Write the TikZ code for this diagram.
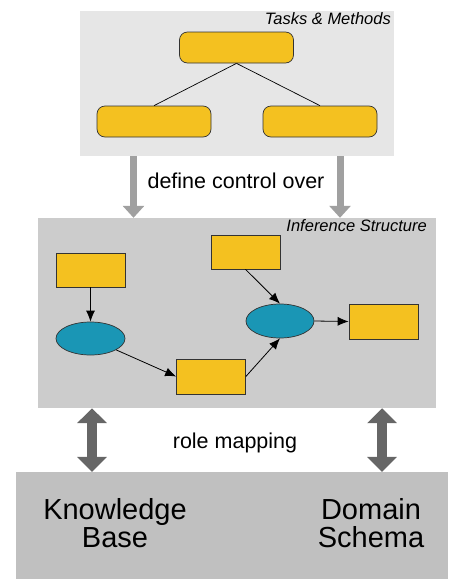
\documentclass[tikz,border=0pt]{standalone}
\usepackage{fontspec}
\setmainfont{Liberation Sans}
\usetikzlibrary{arrows.meta,shapes.geometric}
\definecolor{ybox}{HTML}{F4C120}
\definecolor{tealc}{HTML}{1A96B5}
\definecolor{panelA}{HTML}{E6E6E6}
\definecolor{panelB}{HTML}{CCCCCC}
\definecolor{panelC}{HTML}{C0C0C0}
\definecolor{arrA}{HTML}{A0A0A0}
\definecolor{arrB}{HTML}{666666}
\tikzset{
  panel/.style={inner sep=0pt, draw=none},
  taskbox/.style={draw=black!80, line width=0.7pt, fill=ybox, rounded corners=8pt, minimum width=114pt, minimum height=31pt, inner sep=0pt},
  rolebox/.style={draw=black!80, line width=0.7pt, fill=ybox, minimum width=69pt, minimum height=34pt, inner sep=0pt},
  infer/.style={ellipse, draw=black!80, line width=0.7pt, fill=tealc, minimum width=69pt, minimum height=33pt, inner sep=0pt},
  flow/.style={line width=0.8pt, -{Latex[length=11pt,width=9pt]}},
  tree/.style={line width=0.7pt},
  ctrlarrow/.style={draw=arrA, line width=7pt, -{Triangle[length=12pt,width=21pt]}},
  maparrow/.style={draw=arrB, line width=10pt, {Triangle[length=15pt,width=29pt]}-{Triangle[length=15pt,width=29pt]}},
  ttl/.style={font=\fontsize{16.5pt}{19pt}\selectfont\itshape, inner sep=0pt},
  lbl/.style={font=\fontsize{21.5pt}{26pt}\selectfont, inner sep=0pt},
  big/.style={font=\fontsize{29pt}{28pt}\selectfont, align=center, inner sep=0pt}
}
\begin{document}
\begin{tikzpicture}[x=1pt,y=-1pt]
\useasboundingbox (0,0) rectangle (448,579);
% panels
\node[panel, fill=panelA, minimum width=314pt, minimum height=145pt] (tm) at (237,83.5) {};
\node[panel, fill=panelB, minimum width=398pt, minimum height=190pt] (inf) at (237,313) {};
\node[panel, fill=panelC, minimum width=432pt, minimum height=107pt] (kb) at (232,525.5) {};
% titles
\node[ttl, anchor=east] (tmt) at (391,19) {Tasks \& Methods};
\node[ttl, anchor=east] (inft) at (427,226) {Inference Structure};
% task tree
\node[taskbox] (t0) at (236.5,47.5) {};
\node[taskbox] (t1) at (154,121.5) {};
\node[taskbox] (t2) at (320,121.5) {};
\draw[tree] (t0.south) -- (t1.north);
\draw[tree] (t0.south) -- (t2.north);
% inference structure
\node[rolebox] (b1) at (90.5,270) {};
\node[infer] (e1) at (90.5,338.5) {};
\node[rolebox, minimum height=35pt] (b2) at (211,376.5) {};
\node[rolebox] (b3) at (245.5,252) {};
\node[infer, minimum width=68pt, minimum height=34pt] (e2) at (280,321) {};
\node[rolebox, minimum height=35pt] (b4) at (383.5,321.5) {};
\draw[flow] (b1.south) -- (e1.north);
\draw[flow] (e1) -- (b2.west);
\draw[flow] (b2.east) -- (e2.south);
\draw[flow] (b3.south) -- (e2.north);
\draw[flow] (e2.east) -- (b4.west);
% control arrows
\coordinate (cx1) at (133.5,0);
\coordinate (cx2) at (340,0);
\draw[ctrlarrow] (tm.south -| cx1) -- (inf.north -| cx1);
\draw[ctrlarrow] (tm.south -| cx2) -- (inf.north -| cx2);
\node[lbl] (dco) at (236,181) {define control over};
% mapping arrows
\coordinate (mx1) at (92,0);
\coordinate (mx2) at (382,0);
\draw[maparrow] (inf.south -| mx1) -- (kb.north -| mx1);
\draw[maparrow] (inf.south -| mx2) -- (kb.north -| mx2);
\node[lbl] (rm) at (235,443) {role mapping};
% bottom texts
\node[big] (kbt) at (115,523.5) {Knowledge\\Base};
\node[big] (dst) at (371,523.5) {Domain\\Schema};
\end{tikzpicture}
\end{document}
